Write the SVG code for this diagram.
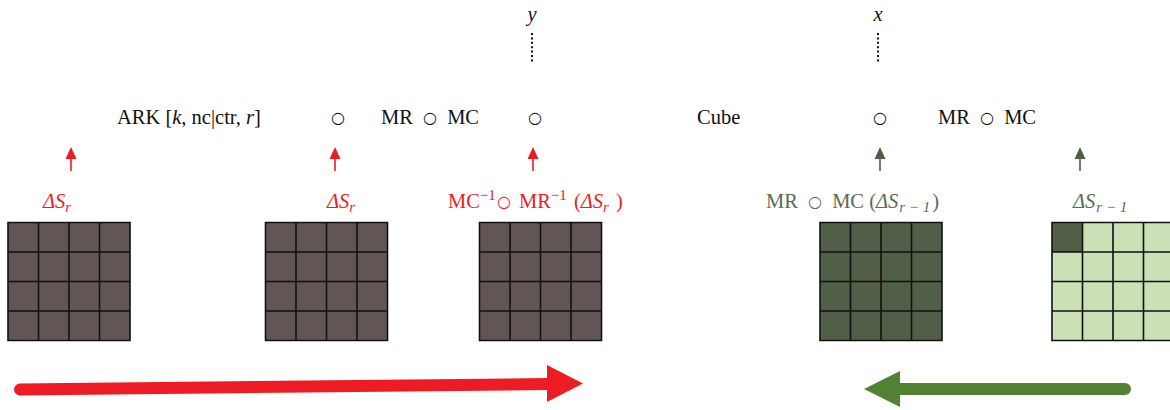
<svg xmlns="http://www.w3.org/2000/svg" width="1170" height="410" viewBox="0 0 1170 410">
<style>
.t{font-family:"Liberation Serif",serif;font-size:20.5px;fill:#111}
.i{font-style:italic}
.red{fill:#ED1C24}
.grn{fill:#5B6B50}
.ring{font-family:"DejaVu Sans",sans-serif;font-size:16px;font-style:normal}
.sub{font-size:15px}
.gl{fill:none;stroke:#111;stroke-width:1.6}
.dots{stroke:#111;stroke-width:2;stroke-dasharray:2 2.4}
</style>
<defs>
<path id="gridlines" class="gl" d="M0,0H122V118H0Z M30.5,0V118 M61,0V118 M91.5,0V118 M0,29.5H122 M0,59H122 M0,88.5H122"/>
<marker id="hr" viewBox="0 0 12 11" refX="0" refY="5.5" markerWidth="12" markerHeight="11" markerUnits="userSpaceOnUse" orient="auto"><path d="M0,0L12,5.5L0,11Z" fill="#ED1C24"/></marker>
<marker id="hg" viewBox="0 0 12 11" refX="0" refY="5.5" markerWidth="12" markerHeight="11" markerUnits="userSpaceOnUse" orient="auto"><path d="M0,0L12,5.5L0,11Z" fill="#4F5F46"/></marker>
</defs>

<g id="top-labels">
<text class="t i" x="532" y="21" text-anchor="middle">y</text>
<line class="dots" x1="532" y1="33" x2="532" y2="63"/>
<text class="t i" x="878" y="21" text-anchor="middle">x</text>
<line class="dots" x1="878" y1="33" x2="878" y2="63"/>
</g>

<g id="formula-row">
<text class="t" x="117" y="124">ARK [<tspan class="i">k</tspan>, nc|ctr, <tspan class="i">r</tspan>]</text>
<text class="t ring" x="338" y="123" text-anchor="middle">○</text>
<text class="t" x="381" y="124">MR <tspan class="ring" dx="5" dy="-1">○</tspan><tspan dx="5" dy="1"> MC</tspan></text>
<text class="t ring" x="535" y="123" text-anchor="middle">○</text>
<text class="t" x="697" y="124">Cube</text>
<text class="t ring" x="880" y="123" text-anchor="middle">○</text>
<text class="t" x="938" y="124">MR <tspan class="ring" dx="5" dy="-1">○</tspan><tspan dx="5" dy="1"> MC</tspan></text>
</g>

<g id="connectors">
<line x1="71" y1="171" x2="71" y2="159" stroke="#ED1C24" stroke-width="1.6" marker-end="url(#hr)"/>
<line x1="335" y1="171" x2="335" y2="159" stroke="#ED1C24" stroke-width="1.6" marker-end="url(#hr)"/>
<line x1="533" y1="171" x2="533" y2="159" stroke="#ED1C24" stroke-width="1.6" marker-end="url(#hr)"/>
<line x1="880" y1="171" x2="880" y2="159" stroke="#4F5F46" stroke-width="1.6" marker-end="url(#hg)"/>
<line x1="1080" y1="171" x2="1080" y2="159" stroke="#4F5F46" stroke-width="1.6" marker-end="url(#hg)"/>
<path d="M20,389.5L548,384" stroke="#ED1C24" stroke-width="12" stroke-linecap="round" fill="none"/>
<path d="M547,365L583,383.5L547,402Z" fill="#ED1C24"/>
<path d="M1125,389H899" stroke="#548235" stroke-width="12" stroke-linecap="round" fill="none"/>
<path d="M900,371L864,389L900,407Z" fill="#548235"/>
</g>

<g id="node1">
<text class="t i red" x="43" y="208">ΔS<tspan class="sub" dy="4">r</tspan></text>
<rect x="8" y="222.5" width="122" height="118" fill="#625555"/>
<use href="#gridlines" x="8" y="222.5"/>
</g>

<g id="node2">
<text class="t i red" x="327" y="208">ΔS<tspan class="sub" dy="4">r</tspan></text>
<rect x="265.5" y="222.5" width="122" height="118" fill="#625555"/>
<use href="#gridlines" x="265.5" y="222.5"/>
</g>

<g id="node3">
<text class="t red" x="448" y="208">MC<tspan class="sub" dy="-8">−1</tspan><tspan class="ring" dx="1" dy="7">○</tspan><tspan dx="3" dy="1"> MR</tspan><tspan class="sub" dy="-8">−1</tspan><tspan dx="2" dy="8"> (</tspan><tspan class="i">ΔS</tspan><tspan class="sub i" dy="4">r</tspan><tspan dx="2" dy="-4"> )</tspan></text>
<rect x="479.5" y="222.5" width="122" height="118" fill="#625555"/>
<use href="#gridlines" x="479.5" y="222.5"/>
</g>

<g id="node4">
<text class="t grn" x="766" y="208">MR <tspan class="ring" dx="5" dy="-1">○</tspan><tspan dx="5" dy="1"> MC (</tspan><tspan class="i">ΔS</tspan><tspan class="sub i" dy="4" dx="1">r − 1</tspan><tspan dx="2" dy="-4">)</tspan></text>
<rect x="820" y="222.5" width="122" height="118" fill="#515F48"/>
<use href="#gridlines" x="820" y="222.5"/>
</g>

<g id="node5">
<text class="t i grn" x="1073" y="208">ΔS<tspan class="sub" dy="4" dx="1">r − 1</tspan></text>
<rect x="1052" y="222.5" width="122" height="118" fill="#CCE0B5"/>
<rect x="1052" y="222.5" width="30.5" height="29.5" fill="#515F48"/>
<use href="#gridlines" x="1052" y="222.5"/>
</g>
</svg>
